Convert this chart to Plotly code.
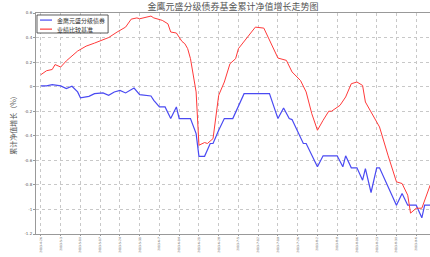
import plotly.graph_objects as go

fund_name = "金鹰元盛分级债券"
bench_name = "业绩比较基准"
title_text = "金鹰元盛分级债券基金累计净值增长走势图"
y_title = "累计净值增长（%）"

bench_dates = ["2013-04-26", "2013-04-28", "2013-04-30", "2013-05-01", "2013-05-03", "2013-05-05",
               "2013-05-09", "2013-05-12", "2013-05-15", "2013-05-18", "2013-05-20", "2013-05-23",
               "2013-05-26", "2013-05-28", "2013-05-30", "2013-05-31", "2013-06-02", "2013-06-04",
               "2013-06-05", "2013-06-08", "2013-06-10", "2013-06-11", "2013-06-13", "2013-06-15",
               "2013-06-16", "2013-06-17", "2013-06-18", "2013-06-20", "2013-06-21", "2013-06-23",
               "2013-06-24", "2013-06-26", "2013-06-28", "2013-06-30", "2013-07-02", "2013-07-04",
               "2013-07-05", "2013-07-09", "2013-07-11", "2013-07-14", "2013-07-19", "2013-07-22",
               "2013-07-24", "2013-07-27", "2013-07-29", "2013-07-31", "2013-08-02", "2013-08-04",
               "2013-08-06", "2013-08-07", "2013-08-10", "2013-08-12", "2013-08-14", "2013-08-16",
               "2013-08-18", "2013-08-19", "2013-08-21", "2013-08-24", "2013-08-27", "2013-08-30",
               "2013-09-01", "2013-09-03", "2013-09-04", "2013-09-06", "2013-09-08", "2013-09-11"]
bench_values = [0.098, 0.13, 0.14, 0.18, 0.16, 0.21,
                0.29, 0.33, 0.355, 0.385, 0.40, 0.445,
                0.485, 0.55, 0.56, 0.553, 0.567, 0.575,
                0.56, 0.54, 0.512, 0.445, 0.437, 0.368,
                0.35, 0.31, 0.228, -0.043, -0.477, -0.455,
                -0.463, -0.423, -0.07, 0.038, 0.187, 0.228,
                0.31, 0.43, 0.485, 0.477, 0.233, 0.214,
                0.12, 0.05, -0.043, -0.22, -0.355, -0.274,
                -0.2, -0.2, -0.152, -0.084, 0.024, 0.038,
                0.01, -0.125, -0.206, -0.328, -0.558, -0.775,
                -0.789, -0.884, -1.03, -0.99, -0.99, -0.8]

fund_dates = ["2013-04-26", "2013-04-28", "2013-04-30", "2013-05-03", "2013-05-05", "2013-05-07",
              "2013-05-09", "2013-05-10", "2013-05-13", "2013-05-15", "2013-05-18", "2013-05-20",
              "2013-05-22", "2013-05-24", "2013-05-26", "2013-05-28", "2013-05-29", "2013-05-31",
              "2013-06-02", "2013-06-04", "2013-06-05", "2013-06-07", "2013-06-09", "2013-06-11",
              "2013-06-13", "2013-06-14", "2013-06-18", "2013-06-20", "2013-06-21", "2013-06-23",
              "2013-06-25", "2013-06-26", "2013-06-28", "2013-06-30", "2013-07-03", "2013-07-07",
              "2013-07-16", "2013-07-19", "2013-07-21", "2013-07-23", "2013-07-24", "2013-07-28",
              "2013-07-29", "2013-08-02", "2013-08-04", "2013-08-09", "2013-08-11", "2013-08-12",
              "2013-08-14", "2013-08-16", "2013-08-18", "2013-08-19", "2013-08-21", "2013-08-23",
              "2013-08-24", "2013-08-30", "2013-09-01", "2013-09-03", "2013-09-06", "2013-09-08",
              "2013-09-09", "2013-09-11"]
fund_values = [0.006, 0.006, 0.016, 0.006, -0.016, 0.003,
               -0.043, -0.09, -0.079, -0.057, -0.051, -0.07,
               -0.043, -0.03, -0.051, -0.022, -0.011, -0.065,
               -0.07, -0.076, -0.111, -0.165, -0.165, -0.26,
               -0.165, -0.26, -0.26, -0.382, -0.567, -0.567,
               -0.463, -0.463, -0.355, -0.26, -0.26, -0.057,
               -0.057, -0.26, -0.173, -0.26, -0.268, -0.463,
               -0.463, -0.653, -0.563, -0.563, -0.653, -0.563,
               -0.661, -0.661, -0.762, -0.667, -0.862, -0.661,
               -0.661, -0.965, -0.87, -0.965, -0.965, -1.068,
               -0.965, -0.965]

tick_dates = ["2013-04-26", "2013-05-03", "2013-05-10", "2013-05-17", "2013-05-24", "2013-05-31",
              "2013-06-07", "2013-06-14", "2013-06-21", "2013-06-28", "2013-07-05", "2013-07-12",
              "2013-07-19", "2013-07-26", "2013-08-02", "2013-08-09", "2013-08-16", "2013-08-23",
              "2013-08-30", "2013-09-06"]
tick_labels = ["2013-4-26", "2013-5-3", "2013-5-10", "2013-5-17", "2013-5-24", "2013-5-31",
               "2013-6-7", "2013-6-14", "2013-6-21", "2013-6-28", "2013-7-5", "2013-7-12",
               "2013-7-19", "2013-7-26", "2013-8-2", "2013-8-9", "2013-8-16", "2013-8-23",
               "2013-8-30", "2013-9-6"]
y_ticks = [0.6, 0.4, 0.2, 0, -0.2, -0.4, -0.6, -0.8, -1, -1.2]
y_labels = ["0.6", "0.4", "0.2", "0", "-0.2", "-0.4", "-0.6", "-0.8", "-1", "-1.2"]

series_colors = ["#4a4af2", "#ff3a3a"]
font_family = "DejaVu Sans, Noto Sans CJK SC, sans-serif"

fig = go.Figure()
fig.add_trace(go.Scatter(x=fund_dates, y=fund_values, mode="lines", name=fund_name,
                         line=dict(color=series_colors[0], width=1.2), showlegend=False))
fig.add_trace(go.Scatter(x=bench_dates, y=bench_values, mode="lines", name=bench_name,
                         line=dict(color=series_colors[1], width=1), showlegend=False))

# compact legend box (paper coordinates of the plot area)
fig.add_shape(type="rect", xref="paper", yref="paper", x0=0.0025, x1=0.183, y0=0.9095, y1=0.991,
              line=dict(color="#333", width=0.8), fillcolor="white", layer="above")
for i, (name, col) in enumerate(zip([fund_name, bench_name], series_colors)):
    yy = 0.968 - i * 0.041
    fig.add_shape(type="line", xref="paper", yref="paper", x0=0.0102, x1=0.0406, y0=yy, y1=yy,
                  line=dict(color=col, width=1.2), layer="above")
    fig.add_annotation(xref="paper", yref="paper", x=0.048, y=yy, text=name, showarrow=False,
                       xanchor="left", yanchor="middle",
                       font=dict(size=6, color="#333", family="Noto Sans CJK SC"))

fig.update_layout(
    width=430, height=257,
    margin=dict(l=36, r=0, t=13, b=23, autoexpand=False),
    paper_bgcolor="white", plot_bgcolor="white",
    font=dict(family=font_family, size=6, color="#444"),
    title=dict(text=title_text, x=0.542, xanchor="center", y=0.972, yanchor="middle",
               font=dict(size=9, color="#555", family="Noto Sans CJK SC")),
    showlegend=False,
)
fig.update_xaxes(
    range=["2013-04-24 06:00", "2013-09-10 21:30"],
    tickvals=tick_dates, ticktext=tick_labels, tickangle=-90,
    tickfont=dict(size=3, color="#555"), automargin=False,
    showgrid=True, gridcolor="#c8c8c8", griddash="dot", gridwidth=1,
    showline=True, linecolor="#999", linewidth=1, mirror=True,
    ticks="outside", ticklen=1, tickcolor="#999", zeroline=False,
)
fig.update_yaxes(
    range=[-1.2, 0.6], automargin=False,
    tickvals=y_ticks, ticktext=y_labels,
    tickfont=dict(size=4, color="#555"),
    title=dict(text=y_title, font=dict(size=7, color="#555", family="Noto Sans CJK SC"), standoff=6),
    showgrid=True, gridcolor="#c8c8c8", griddash="dot", gridwidth=1,
    showline=True, linecolor="#999", linewidth=1, mirror=True,
    ticks="outside", ticklen=2, tickcolor="#999", zeroline=False,
)

fig.write_html("out.html", config={"displayModeBar": False},
               post_script="document.body.style.margin='0';")
